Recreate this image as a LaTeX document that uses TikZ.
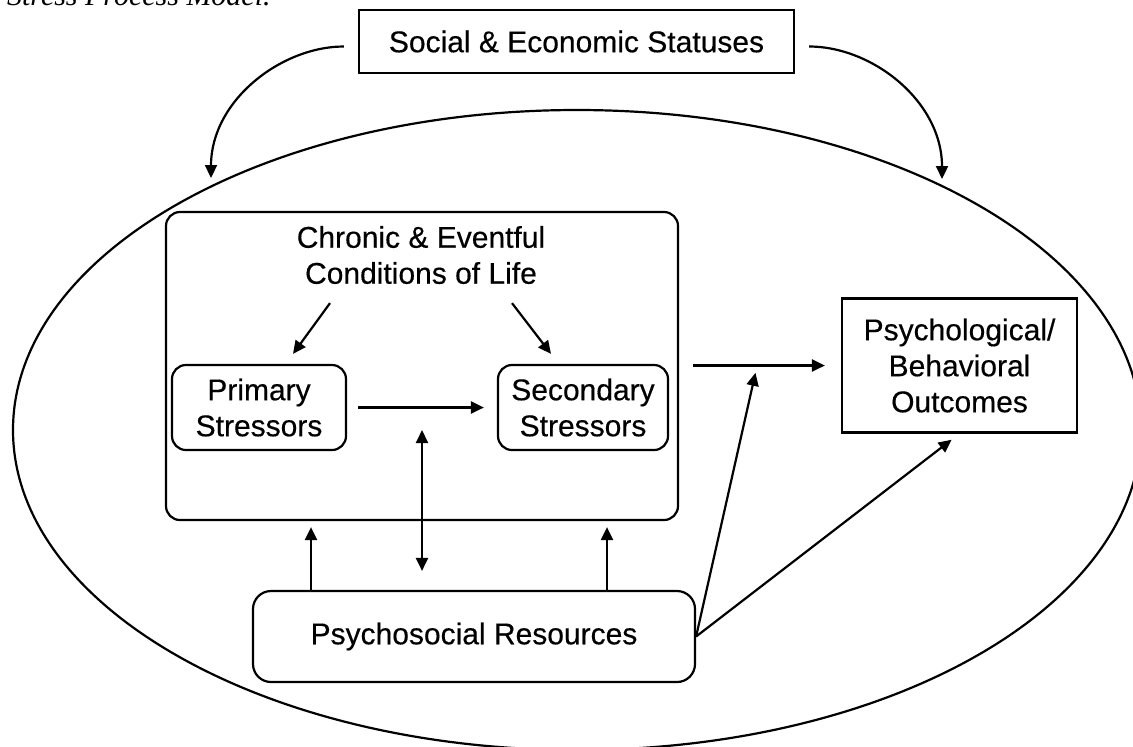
\documentclass[tikz,border=0pt]{standalone}
\usepackage{fontspec}
\setmainfont{Liberation Sans}[BoldFont=Liberation Sans, BoldFeatures={FakeBold=0.35}]
\newfontfamily\capfont{Liberation Serif}
\usetikzlibrary{arrows.meta,fadings,backgrounds}

\begin{document}
\begin{tikzpicture}[x=0.5pt, y=-0.5pt, line width=1.1pt,
  >={Triangle[length=6.5pt,width=6pt]},
  txt/.style={font=\fontsize{15}{18}\selectfont\bfseries, align=center, inner sep=0pt},
  sqbox/.style={draw, fill=white, txt},
  rbox/.style={sqbox, rounded corners=7pt}]

\useasboundingbox (0,0) rectangle (1133,746);

% caption, cut by the top edge
\node[anchor=base west, inner sep=0pt, font=\capfont\itshape\fontsize{15}{18}\selectfont] (cap) at (6,5) {Stress Process Model.};

\draw (577,430) ellipse [x radius=282pt, y radius=160pt]; % context

\node[sqbox, minimum width=217.5pt, minimum height=31.5pt] (soc) at (576.5,41.5) {Social \& Economic Statuses};

\node[rbox, minimum width=256pt, minimum height=154pt] (chr) at (422,366) {};
\node[txt] (chrt) at (421,255) {Chronic \& Eventful\\Conditions of Life};

\node[rbox, minimum width=87pt, minimum height=42.5pt] (prim) at (259,407.5) {Primary\\Stressors};
\node[rbox, minimum width=85pt, minimum height=42.5pt] (sec) at (583,407.5) {Secondary\\Stressors};

\node[rbox, rounded corners=9pt, minimum width=221pt, minimum height=45.5pt] (psy) at (474,636.5) {Psychosocial Resources};
\node[sqbox, minimum width=117.5pt, minimum height=67pt] (out) at (959.5,365.5) {Psychological/\\Behavioral\\Outcomes};

% soft shadows under the stressors
\begin{scope}[on background layer]
\foreach \n in {prim,sec}
  \fill[black, opacity=0.12, path fading=circle with fuzzy edge 20 percent]
    ([yshift=-3pt]\n.south) ellipse [x radius=48pt, y radius=5pt];
\end{scope}

\coordinate (tl) at (211,178); % arrow ends on the ellipse
\coordinate (tr) at (942,179);
\coordinate (mod) at (757,366); % moderation point
\coordinate (ps) at (422,430);
\coordinate (u1) at ([xshift=-81.5pt]psy.north);
\coordinate (u2) at ([xshift=66.5pt]psy.north);

\draw[->, shorten <=7pt] ([yshift=-2.5pt]soc.west) to[out=180, in=90] (tl);
\draw[->, shorten <=7pt] ([yshift=-2.5pt]soc.east) to[out=0, in=90] (tr);

\draw[->] ([xshift=-45.5pt, yshift=-9pt]chrt.south) -- ([xshift=17pt, yshift=5pt]prim.north);
\draw[->] ([xshift=45.5pt, yshift=-9pt]chrt.south) -- ([xshift=-16pt, yshift=5pt]sec.north);
\draw[->, shorten <=5.5pt, shorten >=6.5pt] (prim) -- (sec);

\draw[<->, shorten >=9.5pt] (ps) -- (ps |- psy.north);
\draw[->, shorten >=3pt] (u1) -- (u1 |- chr.south);
\draw[->, shorten >=3pt] (u2) -- (u2 |- chr.south);

\draw[->, shorten <=7pt, shorten >=8pt] (chr.east |- out.west) -- (out.west);
\draw[->, shorten >=3.5pt] (psy.east) -- (mod);
\draw[->, shorten >=5pt] (psy.east) -- (out.south);

\end{tikzpicture}
\end{document}
